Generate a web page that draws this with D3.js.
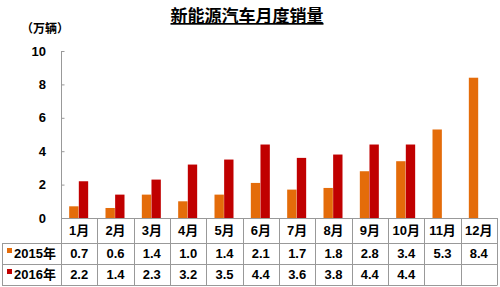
<!DOCTYPE html>
<html>
    <head>
        <meta charset="utf-8">
        <script src="https://d3js.org/d3.v7.min.js"></script>
        <style>
            body { margin: 0; background: #fff; }
            text { font-family: "Liberation Sans", Arial, "Noto Sans CJK SC", sans-serif; font-weight: bold; fill: #000; }
        </style>
    </head>
    <body>
        <script>
            var months = ['1月', '2月', '3月', '4月', '5月', '6月', '7月', '8月', '9月', '10月', '11月', '12月'];
            var years = ['2015年', '2016年'];
            var sales2015 = [0.7, 0.6, 1.4, 1.0, 1.4, 2.1, 1.7, 1.8, 2.8, 3.4, 5.3, 8.4];
            var sales2016 = [2.2, 1.4, 2.3, 3.2, 3.5, 4.4, 3.6, 3.8, 4.4, 4.4];
            var yTicks = [0, 2, 4, 6, 8, 10];
            var colors = ['#e46c0a', '#c00000'];

            var W = 500, H = 287;
            var plotLeft = 61, plotRight = 497, plotTop = 51, plotBase = 218;
            var rowLines = [218, 243, 264, 285];

            var svg = d3.select('body').append('svg')
                .attr('width', W)
                .attr('height', H);

            var x = d3.scaleBand().domain(months).range([plotLeft, plotRight]);
            var xs = d3.scaleBand().domain(years).range([-10, 9]).paddingInner(0.03);
            var y = d3.scaleLinear().domain([0, 10]).range([plotBase, plotTop]);

            // title
            svg.append('text')
                .attr('x', 247).attr('y', 22)
                .attr('text-anchor', 'middle')
                .style('font-size', '17px')
                .style('text-decoration', 'underline')
                .text('新能源汽车月度销量');

            svg.append('text')
                .attr('x', 45).attr('y', 33)
                .attr('text-anchor', 'middle')
                .style('font-size', '12px')
                .text('（万辆）');

            // y axis
            var yAxis = svg.append('g')
                .attr('transform', 'translate(' + (plotLeft + 0.5) + ',0)')
                .call(d3.axisRight(y).tickValues(yTicks).tickSize(3).tickFormat(''));
            yAxis.selectAll('line, path').attr('stroke', '#999');
            yAxis.select('path').attr('d', 'M0,' + plotTop + 'V' + plotBase);

            svg.selectAll('.ylab')
                .data(yTicks)
                .enter().append('text')
                .attr('class', 'ylab')
                .attr('x', 46)
                .attr('y', function(d) { return y(d) + 4.5; })
                .attr('text-anchor', 'end')
                .style('font-size', '13px')
                .text(function(d) { return d; });

            // bars
            var series = [sales2015, sales2016];
            series.forEach(function(vals, si) {
                svg.append('g').selectAll('rect')
                    .data(vals)
                    .enter().append('rect')
                    .attr('x', function(d, i) { return x(months[i]) + x.bandwidth() / 2 + xs(years[si]); })
                    .attr('y', function(d) { return y(d); })
                    .attr('width', xs.bandwidth())
                    .attr('height', function(d) { return plotBase - y(d); })
                    .attr('fill', colors[si]);
            });

            // table grid
            var grid = svg.append('g').attr('stroke', '#999').attr('stroke-width', 1);
            grid.append('line').attr('x1', plotLeft).attr('x2', plotRight).attr('y1', rowLines[0] + 0.5).attr('y2', rowLines[0] + 0.5);
            rowLines.slice(1).forEach(function(r) {
                grid.append('line').attr('x1', 2).attr('x2', plotRight).attr('y1', r + 0.5).attr('y2', r + 0.5);
            });
            grid.append('line').attr('x1', 2.5).attr('x2', 2.5).attr('y1', rowLines[1]).attr('y2', rowLines[3] + 0.5);
            months.forEach(function(m) {
                var cx = Math.round(x(m)) + 0.5;
                grid.append('line').attr('x1', cx).attr('x2', cx).attr('y1', rowLines[0]).attr('y2', rowLines[3] + 0.5);
            });
            grid.append('line').attr('x1', plotRight + 0.5).attr('x2', plotRight + 0.5).attr('y1', rowLines[0]).attr('y2', rowLines[3] + 0.5);

            // header row
            svg.selectAll('.mlab')
                .data(months)
                .enter().append('text')
                .attr('class', 'mlab')
                .attr('x', function(d) { return x(d) + x.bandwidth() / 2; })
                .attr('y', 235)
                .attr('text-anchor', 'middle')
                .style('font-size', '13px')
                .text(function(d) { return d; });

            // value rows
            var rowY = [258, 279];
            series.forEach(function(vals, si) {
                svg.append('rect')
                    .attr('x', 7).attr('y', rowY[si] - 10)
                    .attr('width', 5).attr('height', 5)
                    .attr('fill', colors[si]);
                svg.append('text')
                    .attr('x', 14).attr('y', rowY[si])
                    .style('font-size', '13px')
                    .text(years[si]);
                svg.append('g').selectAll('text')
                    .data(vals)
                    .enter().append('text')
                    .attr('x', function(d, i) { return x(months[i]) + x.bandwidth() / 2; })
                    .attr('y', rowY[si])
                    .attr('text-anchor', 'middle')
                    .style('font-size', '13px')
                    .text(function(d) { return d.toFixed(1); });
            });
        </script>
    </body>
</html>
